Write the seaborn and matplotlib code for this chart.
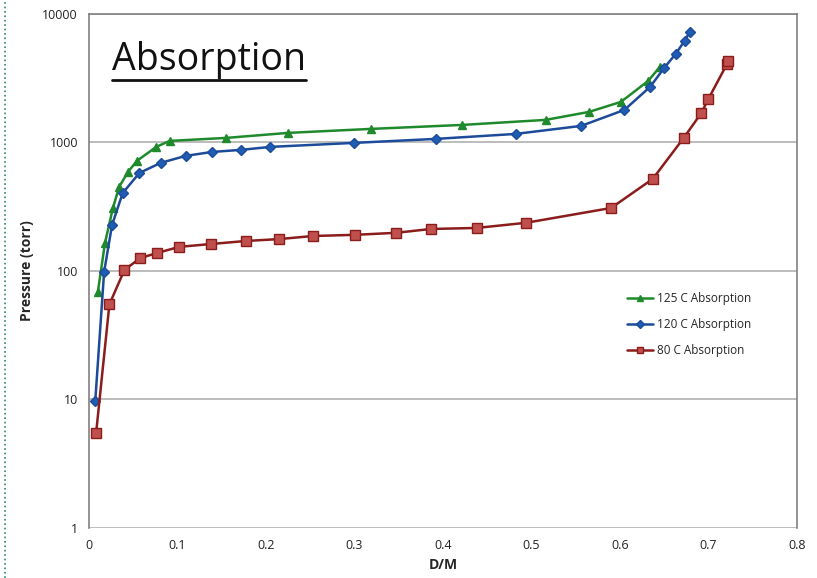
import pandas as pd
import numpy as np
import seaborn as sns
import matplotlib.pyplot as plt
from matplotlib.lines import Line2D
from matplotlib.ticker import FixedLocator, FuncFormatter

# 125 C absorption
dm_125 = [0.010, 0.018, 0.027, 0.034, 0.044, 0.054, 0.076, 0.091, 0.155, 0.225,
          0.319, 0.422, 0.516, 0.565, 0.601, 0.632, 0.645]
p_125 = [69, 165, 309, 451, 589, 718, 923, 1027, 1084, 1186,
         1274, 1368, 1497, 1727, 2066, 3013, 3870]

# 120 C absorption
dm_120 = [0.007, 0.017, 0.026, 0.038, 0.057, 0.081, 0.109, 0.139, 0.172, 0.205,
          0.299, 0.392, 0.482, 0.556, 0.605, 0.634, 0.650, 0.663, 0.673, 0.679]
p_120 = [9.7, 98, 228, 404, 579, 693, 785, 843, 875, 923,
         991, 1065, 1164, 1344, 1790, 2705, 3800, 4890, 6165, 7245]

# 80 C absorption
dm_80 = [0.008, 0.023, 0.040, 0.058, 0.077, 0.102, 0.138, 0.177, 0.215, 0.253,
         0.301, 0.347, 0.386, 0.438, 0.494, 0.590, 0.637, 0.672, 0.692, 0.700,
         0.721, 0.722]
p_80 = [5.5, 55, 102, 126, 138, 154, 162, 171, 177, 187,
        191, 198, 212, 216, 237, 309, 520, 1084, 1697, 2187,
        4083, 4310]

labels = ["125 C Absorption", "120 C Absorption", "80 C Absorption"]

df = pd.concat([
    pd.DataFrame({"D/M": dm_125, "P": p_125, "series": labels[0]}),
    pd.DataFrame({"D/M": dm_120, "P": p_120, "series": labels[1]}),
    pd.DataFrame({"D/M": dm_80, "P": p_80, "series": labels[2]}),
])

sns.set_style("white")
plt.rcParams["font.family"] = ["Open Sans", "DejaVu Sans"]

fig = plt.figure(figsize=(8.17, 5.78), dpi=100)
ax = fig.add_axes([0.109, 0.0865, 0.8665, 0.8895])

line_cols = {labels[0]: "#1f8a2c", labels[1]: "#1c4b9a", labels[2]: "#8b1c1c"}
face_cols = {labels[0]: "#1f8a2c", labels[1]: "#1f5cb4", labels[2]: "#c0504d"}
markers = {labels[0]: "^", labels[1]: "D", labels[2]: "s"}
msizes = {labels[0]: 6, labels[1]: 5.5, labels[2]: 7}

for lab in labels:
    sub = df[df["series"] == lab]
    sns.lineplot(data=sub, x="D/M", y="P", ax=ax, sort=False, color=line_cols[lab],
                 linewidth=1.8, marker=markers[lab], markersize=msizes[lab],
                 markerfacecolor=face_cols[lab], markeredgecolor=line_cols[lab],
                 markeredgewidth=1.0, label=lab)

ax.set_yscale("log")
ax.set_xlim(0, 0.8)
ax.set_ylim(1, 10000)
ax.set_xticks(np.arange(0, 0.81, 0.1))
ax.xaxis.set_major_formatter(FuncFormatter(lambda v, p: "0" if v == 0 else f"{v:.1f}"))
ax.yaxis.set_major_locator(FixedLocator([1, 10, 100, 1000, 10000]))
ax.yaxis.set_minor_locator(FixedLocator([]))
ax.yaxis.set_major_formatter(FuncFormatter(lambda v, p: f"{int(v)}"))
ax.grid(axis="y", color="#b0b0b0", linewidth=1.2)
ax.grid(axis="x", visible=False)
ax.tick_params(axis="both", labelsize=9, colors="#222222", length=0, pad=8)
ax.tick_params(axis="y", length=5, direction="out", color="#888888", pad=3)

for s in ["left", "top", "right"]:
    ax.spines[s].set_color("#808080")
    ax.spines[s].set_linewidth(1.2)
ax.spines["bottom"].set_visible(False)

ax.set_xlabel("D/M", fontsize=10, fontweight="bold", labelpad=4)
ax.set_ylabel("Pressure (torr)", fontsize=10, fontweight="bold", labelpad=6)

ax.legend(loc="upper left", bbox_to_anchor=(0.745, 0.48), frameon=False, fontsize=8.5,
          handlelength=2.2, handletextpad=0.3, labelspacing=1.1, markerscale=0.7)

t = ax.text(0.033, 0.91, "Absorption", transform=ax.transAxes, fontsize=27,
            ha="left", va="center", color="#111111")
fig.canvas.draw()
bb = t.get_window_extent().transformed(fig.transFigure.inverted())
fig.add_artist(Line2D([bb.x0, bb.x1], [bb.y0 - 0.002, bb.y0 - 0.002],
                      transform=fig.transFigure, color="#111111", linewidth=2))

fig.add_artist(Line2D([0.006, 0.006], [0, 1], transform=fig.transFigure,
                      color="#2a8a6a", linewidth=1.2, linestyle=":"))

plt.savefig("out.png", dpi=100)
